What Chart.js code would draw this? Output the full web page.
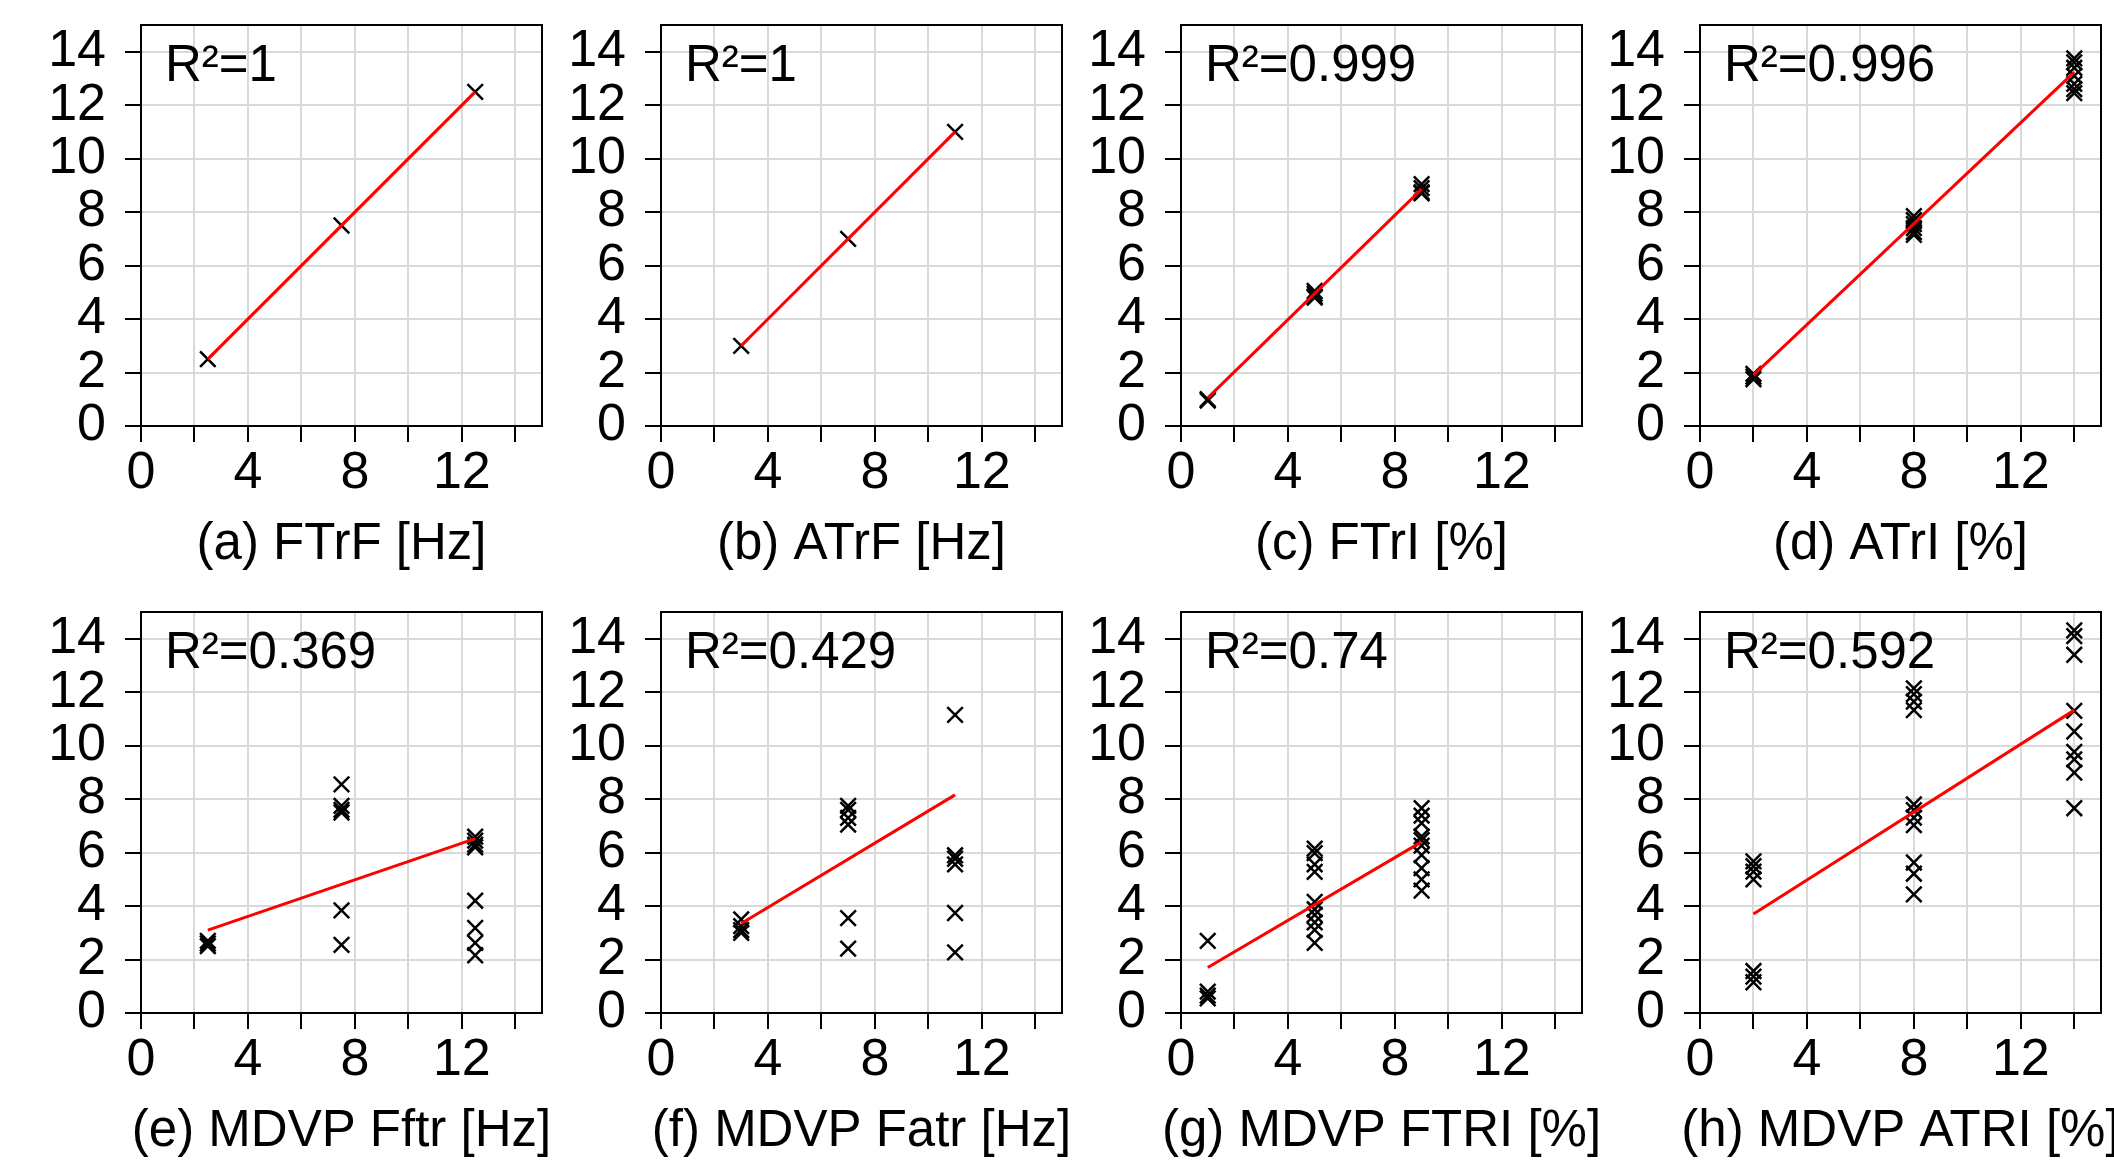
<!DOCTYPE html>
<html>
<head>
<meta charset="utf-8">
<script src="https://cdn.jsdelivr.net/npm/chart.js@4/dist/chart.umd.min.js"></script>
<style>
html, body { margin: 0; padding: 0; width: 2114px; height: 1166px; overflow: hidden; background: #fff; }
.panel { position: absolute; }
</style>
</head>
<body>
<div class="panel" style="left:0px;top:0px"><canvas id="pa" width="600" height="583"></canvas></div>
<div class="panel" style="left:520px;top:0px"><canvas id="pb" width="600" height="583"></canvas></div>
<div class="panel" style="left:1040px;top:0px"><canvas id="pc" width="600" height="583"></canvas></div>
<div class="panel" style="left:1559px;top:0px"><canvas id="pd" width="600" height="583"></canvas></div>
<div class="panel" style="left:0px;top:587px"><canvas id="pe" width="600" height="583"></canvas></div>
<div class="panel" style="left:520px;top:587px"><canvas id="pf" width="600" height="583"></canvas></div>
<div class="panel" style="left:1040px;top:587px"><canvas id="pg" width="600" height="583"></canvas></div>
<div class="panel" style="left:1559px;top:587px"><canvas id="ph" width="600" height="583"></canvas></div>
<script>
const captions = ["(a) FTrF [Hz]", "(b) ATrF [Hz]", "(c) FTrI [%]", "(d) ATrI [%]",
  "(e) MDVP Fftr [Hz]", "(f) MDVP Fatr [Hz]", "(g) MDVP FTRI [%]", "(h) MDVP ATRI [%]"];
const r2Labels = ["R²=1", "R²=1", "R²=0.999", "R²=0.996", "R²=0.369", "R²=0.429", "R²=0.74", "R²=0.592"];
const xTicks = [0, 4, 8, 12];

const xA = [2.5, 7.5, 12.5];
const yA = [2.5, 7.5, 12.5];
const fitXA = [2.5, 12.5];
const fitYA = [2.5, 12.5];

const xB = [3, 7, 11];
const yB = [3, 7, 11];
const fitXB = [3, 11];
const fitYB = [3, 11];

const xC = [1, 1, 5, 5, 5, 5, 9, 9, 9, 9];
const yC = [1.0, 0.95, 5.05, 4.95, 4.85, 4.8, 9.05, 8.9, 8.75, 8.7];
const fitXC = [1, 9];
const fitYC = [1.05, 8.86];

const xD = [2, 2, 2, 8, 8, 8, 8, 8, 8, 14, 14, 14, 14, 14, 14, 14];
const yD = [1.95, 1.85, 1.75, 7.85, 7.7, 7.55, 7.4, 7.25, 7.15, 13.75, 13.6, 13.4, 13.1, 12.8, 12.6, 12.45];
const fitXD = [2, 14];
const fitYD = [1.9, 13.24];

const xE = [2.5, 2.5, 2.5, 7.5, 7.5, 7.5, 7.5, 7.5, 7.5, 12.5, 12.5, 12.5, 12.5, 12.5, 12.5, 12.5, 12.5];
const yE = [2.7, 2.6, 2.5, 8.55, 7.75, 7.6, 7.5, 3.84, 2.55, 6.6, 6.45, 6.3, 6.2, 4.2, 3.18, 2.62, 2.16];
const fitXE = [2.5, 12.5];
const fitYE = [3.1, 6.52];

const xF = [3, 3, 3, 3, 7, 7, 7, 7, 7, 7, 11, 11, 11, 11, 11, 11];
const yF = [3.5, 3.25, 3.1, 3.0, 7.75, 7.6, 7.3, 7.05, 3.55, 2.41, 11.15, 5.9, 5.77, 5.56, 3.74, 2.27];
const fitXF = [3, 11];
const fitYF = [3.35, 8.16];

const xG = [1, 1, 1, 1, 5, 5, 5, 5, 5, 5, 5, 5, 5, 5, 9, 9, 9, 9, 9, 9, 9, 9, 9, 9];
const yG = [2.7, 0.8, 0.65, 0.55, 6.15, 5.98, 5.56, 5.28, 4.16, 3.88, 3.67, 3.39, 3.11, 2.62,
  7.66, 7.38, 7.1, 6.61, 6.47, 6.26, 5.91, 5.42, 5.0, 4.58];
const fitXG = [1, 9];
const fitYG = [1.7, 6.4];

const xH = [2, 2, 2, 2, 2, 2, 2, 8, 8, 8, 8, 8, 8, 8, 8, 8, 8, 8, 14, 14, 14, 14, 14, 14, 14, 14, 14];
const yH = [5.67, 5.49, 5.29, 5.0, 1.57, 1.36, 1.15, 12.14, 11.93, 11.65, 11.33, 7.8, 7.59, 7.31, 7.03, 5.63, 5.21, 4.44,
  14.31, 14.1, 13.4, 11.3, 10.53, 9.77, 9.49, 8.99, 7.66];
const fitXH = [2, 14];
const fitYH = [3.7, 11.33];

const FONT = '"Liberation Sans", Arial, sans-serif';

// moldura + texto R² + legenda embaixo
const panelText = {
  id: 'panelText',
  afterDraw(chart, args, opts) {
    const ctx = chart.ctx, a = chart.chartArea;
    ctx.save();
    ctx.strokeStyle = '#000';
    ctx.lineWidth = 2;
    ctx.strokeRect(a.left, a.top, a.right - a.left, a.bottom - a.top);
    ctx.fillStyle = '#000';
    ctx.font = '51px ' + FONT;
    ctx.textBaseline = 'alphabetic';
    ctx.textAlign = 'left';
    ctx.fillText(opts.r2, a.left + 24, a.top + 56);
    ctx.textAlign = 'center';
    ctx.fillText(opts.caption, (a.left + a.right) / 2, a.bottom + 133);
    ctx.restore();
  }
};

function pts(xs, ys) {
  return xs.map((x, i) => ({x: x, y: ys[i]}));
}

function axis(isX) {
  return {
    type: 'linear', min: 0, max: 15,
    afterFit: isX
      ? (s) => { s.height = 157; s.paddingLeft = 0; s.paddingRight = 0; }
      : (s) => { s.width = 141; s.paddingTop = 0; s.paddingBottom = 0; },
    ticks: {
      stepSize: 2, includeBounds: false, autoSkip: false, maxRotation: 0,
      color: '#000', font: {family: FONT, size: 52, lineHeight: 1.2},
      padding: isX ? 0 : 19,
      callback: isX ? (v) => (xTicks.includes(v) ? String(v) : '') : (v) => String(v)
    },
    grid: {color: '#d9d9d9', lineWidth: 2, tickColor: '#000', tickLength: 16, tickWidth: 2},
    border: {color: '#000', width: 2}
  };
}

function panel(id, xs, ys, fx, fy, k) {
  new Chart(document.getElementById(id), {
    type: 'scatter',
    data: {
      datasets: [{
        data: pts(fx, fy), showLine: true, borderColor: '#ff0000', borderWidth: 3,
        pointRadius: 0, fill: false
      }, {
        data: pts(xs, ys), pointStyle: 'crossRot', pointRadius: 11,
        borderColor: '#000', backgroundColor: '#000', borderWidth: 2.5
      }]
    },
    options: {
      responsive: false, animation: false, devicePixelRatio: 1,
      layout: {padding: {top: 25, left: 0, right: 58, bottom: 0}},
      plugins: {
        legend: {display: false}, tooltip: {enabled: false},
        panelText: {r2: r2Labels[k], caption: captions[k]}
      },
      scales: {x: axis(true), y: axis(false)}
    },
    plugins: [panelText]
  });
}

panel('pa', xA, yA, fitXA, fitYA, 0);
panel('pb', xB, yB, fitXB, fitYB, 1);
panel('pc', xC, yC, fitXC, fitYC, 2);
panel('pd', xD, yD, fitXD, fitYD, 3);
panel('pe', xE, yE, fitXE, fitYE, 4);
panel('pf', xF, yF, fitXF, fitYF, 5);
panel('pg', xG, yG, fitXG, fitYG, 6);
panel('ph', xH, yH, fitXH, fitYH, 7);
</script>
</body>
</html>
